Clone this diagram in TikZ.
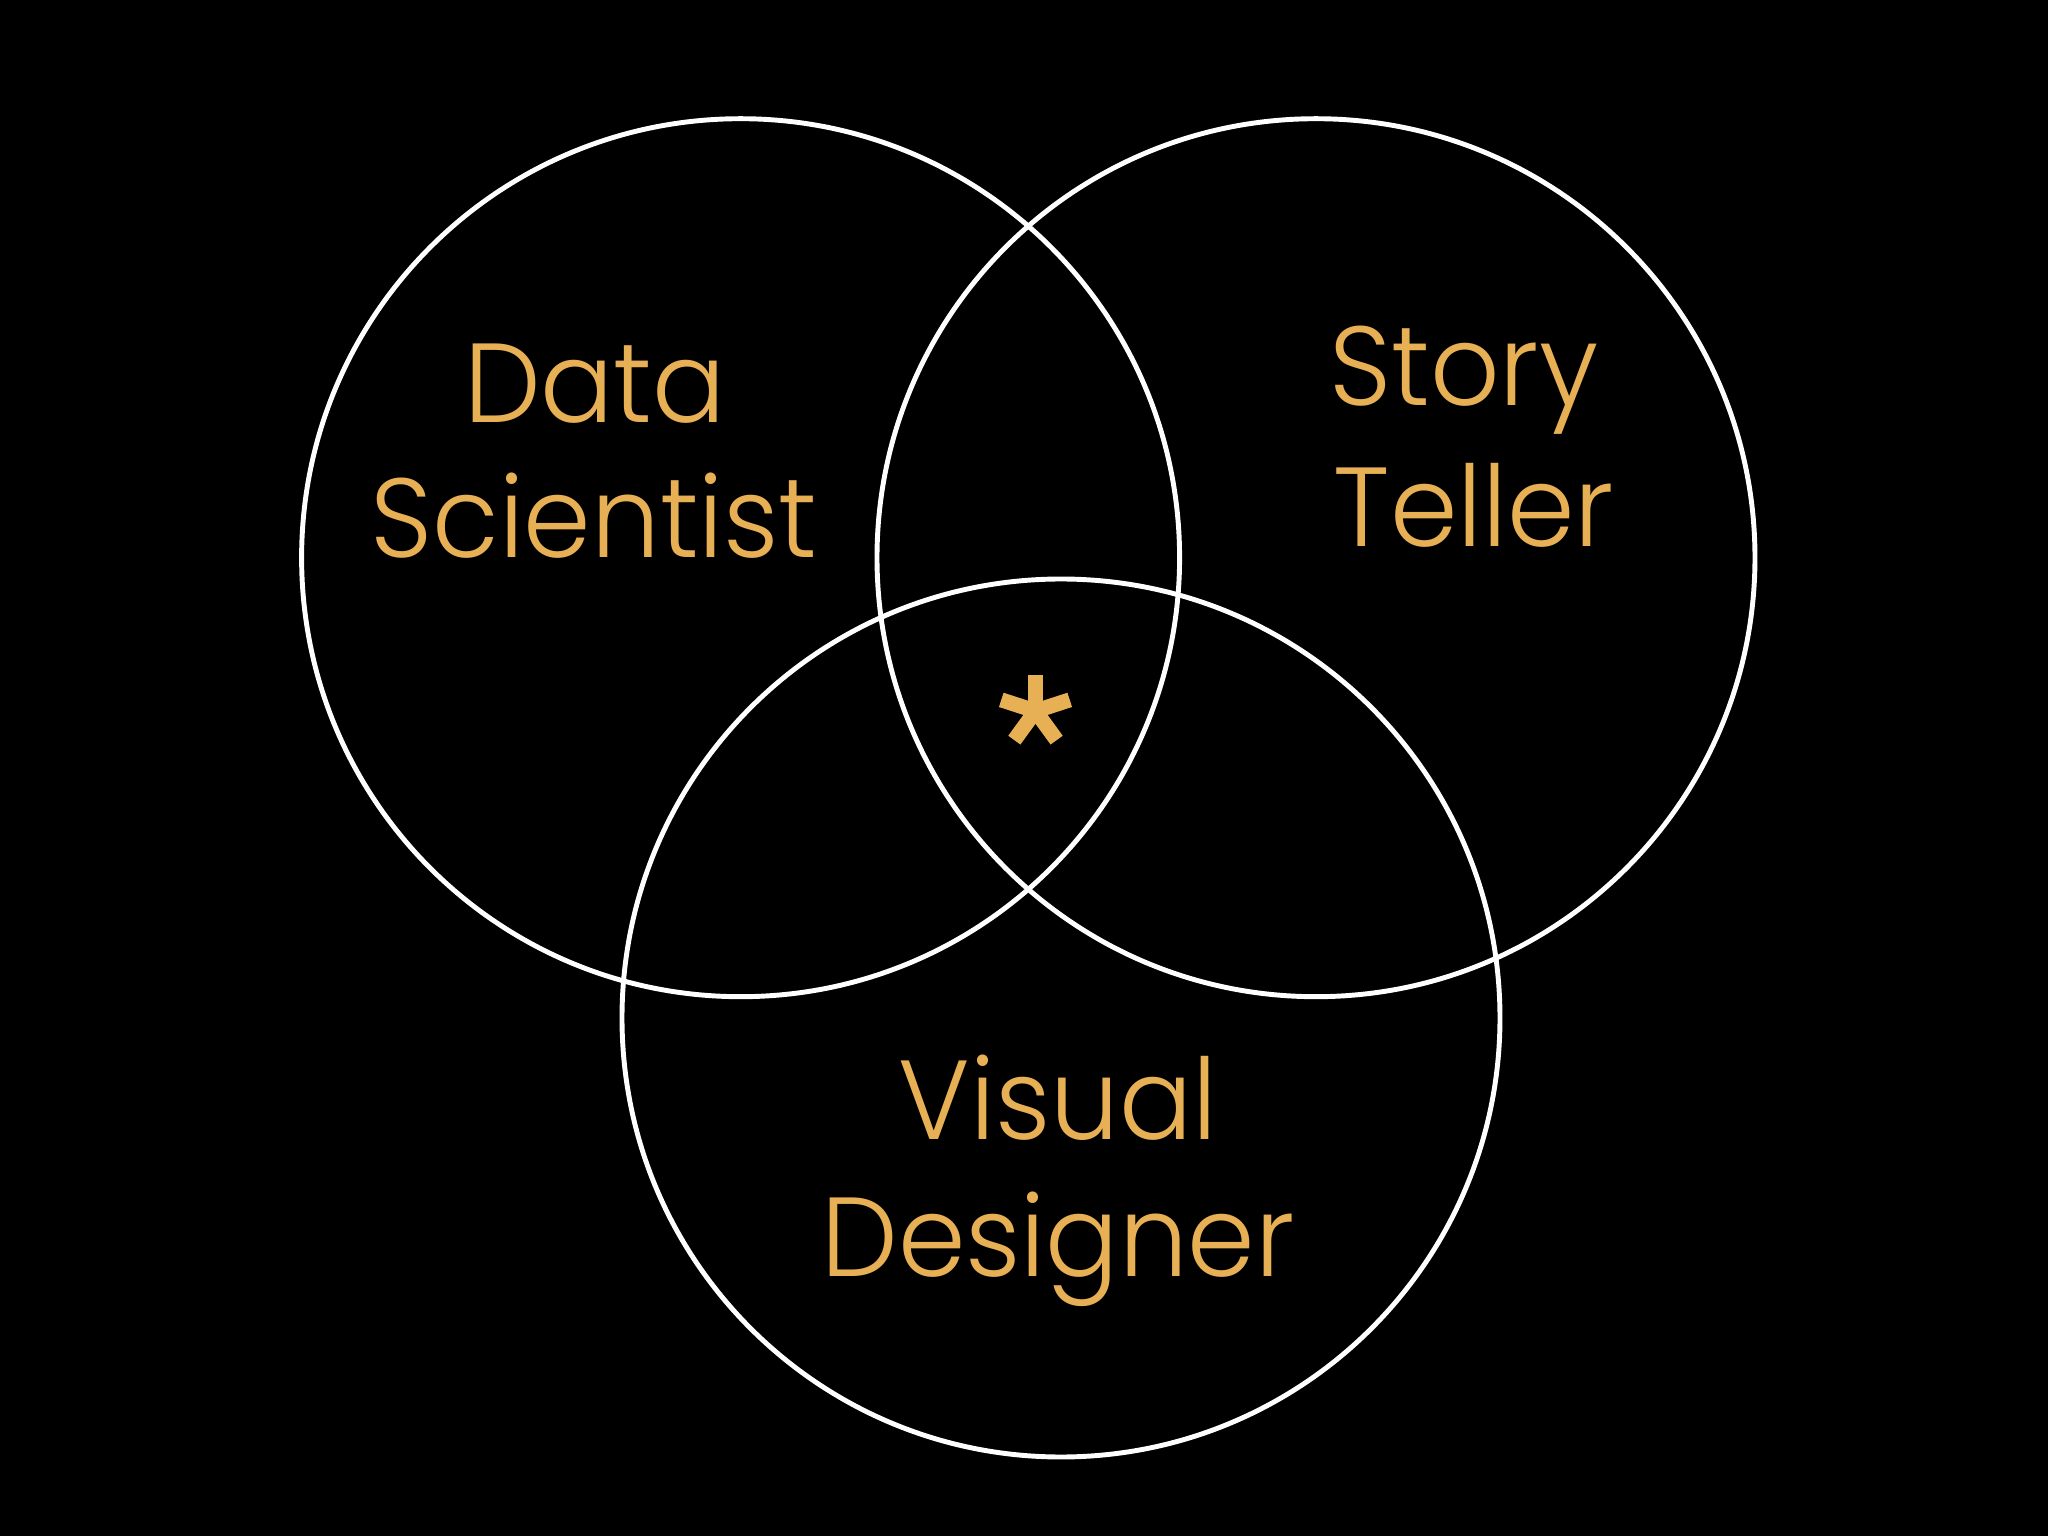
\documentclass[tikz,border=0pt]{standalone}
\usepackage{fontspec}
\IfFontExistsTF{Poppins Light}{\setmainfont{Poppins Light}[FakeStretch=0.965]}{\setmainfont{Poppins}[FakeStretch=0.965]}
\begin{document}
\begin{tikzpicture}[x=1cm,y=1cm,
  ring/.style={draw=white, line width=1.4pt},
  lbl/.style={text=gold, font=\fontsize{32}{38}\selectfont, anchor=base, inner sep=0pt},
  arm/.style={draw=gold, line width=0.15cm, line cap=butt}]
\definecolor{gold}{HTML}{E8B055}
\fill[black] (0,0) rectangle (20.48,-15.36);
\useasboundingbox (0,0) rectangle (20.48,-15.36);
\node[ring, circle, minimum size=8.78cm, inner sep=0pt] (cl) at (7.406,-5.577) {};
\node[ring, circle, minimum size=8.78cm, inner sep=0pt] (cr) at (13.16,-5.577) {};
\node[ring, circle, minimum size=8.78cm, inner sep=0pt] (cb) at (10.61,-10.18) {};
\node[lbl] (d1) at (5.95,-4.23) {Data};
\node[lbl] (d2) at (5.94,-5.58) {Scientist};
\node[lbl] (s1) at (14.64,-4.06) {Story};
\node[lbl] (s2) at (14.74,-5.46) {Teller};
\node[lbl] (v1) at (10.58,-11.40) {Visual};
\node[lbl] (v2) at (10.58,-12.76) {Designer};
\coordinate (st) at (10.355,-7.11);
\foreach \a in {90,162,234,306,18}
  \draw[arm] (st) -- ++(\a:0.36);
\fill[gold] (st) circle (0.09);
\end{tikzpicture}
\end{document}
